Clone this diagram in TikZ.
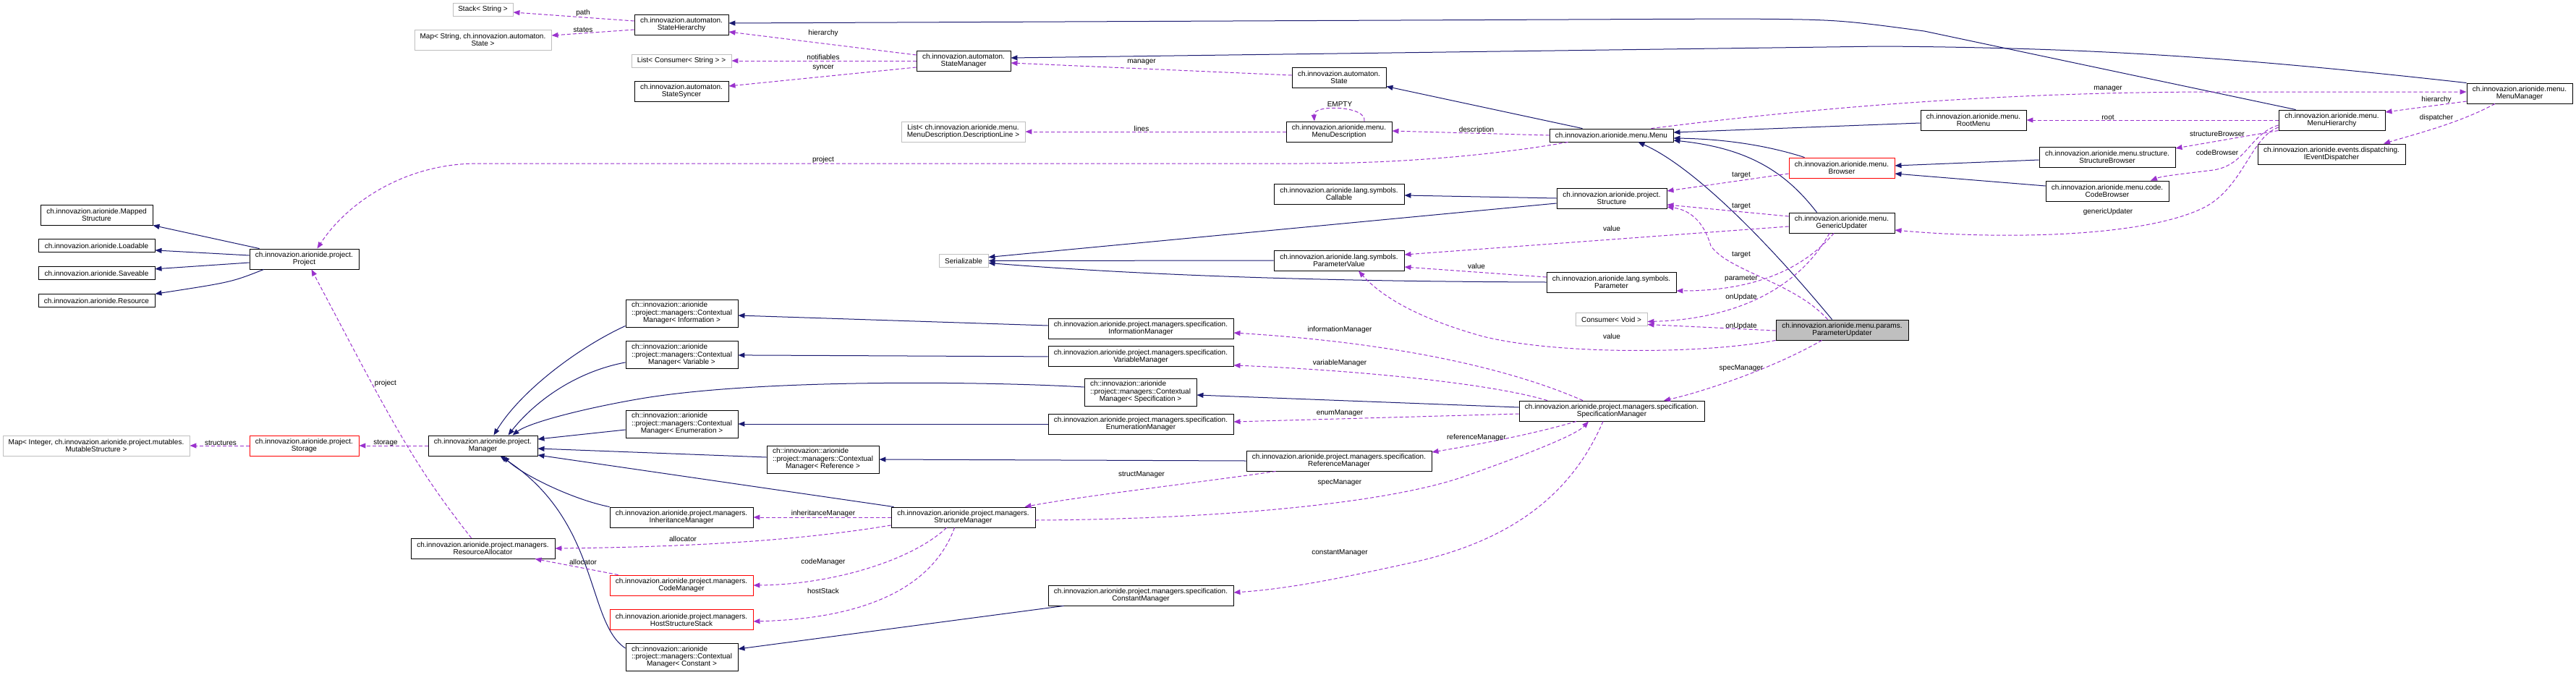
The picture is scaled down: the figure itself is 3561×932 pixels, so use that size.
\documentclass[tikz,border=0pt]{standalone}
\usepackage{fontspec}
\setmainfont{Liberation Sans}
\usepackage{tikz}
\usetikzlibrary{arrows.meta,positioning}
\definecolor{inhblue}{HTML}{191970}
\definecolor{usepurple}{HTML}{9A32CD}
\definecolor{extgray}{HTML}{BFBFBF}
\newcommand{\ctxmgr}[1]{\begin{tabular}{@{}l@{}}ch::innovazion::arionide\\::project::managers::Contextual\\
  \multicolumn{1}{@{}c@{}}{Manager< #1 >}\end{tabular}}

\begin{document}
\begin{tikzpicture}[x=1pt,y=-1pt,
  cls/.style={rectangle,draw,line width=0.9pt,inner sep=0pt,align=center,
              font=\fontsize{10}{10}\selectfont,minimum height=28pt,minimum width=#1pt},
  ext/.style={cls=#1,draw=extgray},
  undoc/.style={cls=#1,draw=red},
  lbl/.style={font=\fontsize{10}{10}\selectfont,inner sep=0pt},
  inh/.style={draw=inhblue,line width=1pt,-{Triangle[length=9pt,width=7pt]}},
  comp/.style={draw=usepurple,line width=1pt,dash pattern=on 5pt off 3pt,
               -{Triangle[length=9pt,width=7pt]}}]
\useasboundingbox (0,0) rectangle (3561,932);
% automaton
\node[ext=83,minimum height=18pt] (stack) at (667.5,13) {Stack< String >};
\node[ext=189] (mapstates) at (667.5,55) {Map< String, ch.innovazion.automaton.\\State >};
\node[cls=130] (hier) at (942,34) {ch.innovazion.automaton.\\StateHierarchy};
\node[ext=138,minimum height=18pt] (consumers) at (942,84) {List< Consumer< String > >};
\node[cls=130] (syncer) at (942,126) {ch.innovazion.automaton.\\StateSyncer};
\node[cls=130] (smanager) at (1332,84) {ch.innovazion.automaton.\\StateManager};
\node[ext=171] (lines) at (1331.5,182) {List< ch.innovazion.arionide.menu.\\MenuDescription.DescriptionLine >};
\node[cls=130] (state) at (1851,107) {ch.innovazion.automaton.\\State};
% menu
\node[cls=146] (mdesc) at (1851,182) {ch.innovazion.arionide.menu.\\MenuDescription};
\node[cls=171,minimum height=18pt] (menu) at (2227.5,187) {ch.innovazion.arionide.menu.Menu};
\node[undoc=146] (browser) at (2546,232) {ch.innovazion.arionide.menu.\\Browser};
\node[cls=180] (callable) at (1851,268) {ch.innovazion.arionide.lang.symbols.\\Callable};
\node[cls=152] (structure) at (2228,274) {ch.innovazion.arionide.project.\\Structure};
\node[cls=146] (generic) at (2546,308) {ch.innovazion.arionide.menu.\\GenericUpdater};
\node[cls=146] (rootmenu) at (2728,166) {ch.innovazion.arionide.menu.\\RootMenu};
\node[cls=147] (mhier) at (3223.5,166) {ch.innovazion.arionide.menu.\\MenuHierarchy};
\node[cls=146] (mmanager) at (3483,129) {ch.innovazion.arionide.menu.\\MenuManager};
\node[cls=188] (sbrowser) at (2913,217) {ch.innovazion.arionide.menu.structure.\\StructureBrowser};
\node[cls=170] (cbrowser) at (2913,264) {ch.innovazion.arionide.menu.code.\\CodeBrowser};
\node[cls=204] (dispatcher) at (3223,213) {ch.innovazion.arionide.events.dispatching.\\IEventDispatcher};
% project
\node[cls=155] (mapped) at (133.5,297) {ch.innovazion.arionide.Mapped\\Structure};
\node[cls=161,minimum height=18pt,below=19pt of mapped] (loadable) {ch.innovazion.arionide.Loadable};
\node[cls=161,minimum height=18pt,below=19pt of loadable] (saveable) {ch.innovazion.arionide.Saveable};
\node[cls=161,minimum height=18pt,below=19pt of saveable] (resource) {ch.innovazion.arionide.Resource};
\node[cls=151] (project) at (420.5,358) {ch.innovazion.arionide.project.\\Project};
\node[ext=68,minimum height=18pt] (serializable) at (1332,360.5) {Serializable};
\node[cls=180] (pvalue) at (1851,360) {ch.innovazion.arionide.lang.symbols.\\ParameterValue};
\node[cls=179] (parameter) at (2227.5,390) {ch.innovazion.arionide.lang.symbols.\\Parameter};
\node[ext=99,minimum height=18pt] (cvoid) at (2227.5,441.5) {Consumer< Void >};
\node[cls=183,fill=extgray] (pupdater) at (2546.5,456) {ch.innovazion.arionide.menu.params.\\ParameterUpdater};
% managers
\node[cls=155,minimum height=38pt] (ctxinfo) at (942.5,433) {\ctxmgr{Information}};
\node[cls=155,minimum height=38pt,below=19pt of ctxinfo] (ctxvar) {\ctxmgr{Variable}};
\node[cls=155,minimum height=38pt] (ctxenum) at (942.5,586) {\ctxmgr{Enumeration}};
\node[cls=155,minimum height=38pt] (ctxspec) at (1576.5,542) {\ctxmgr{Specification}};
\node[cls=155,minimum height=38pt] (ctxref) at (1137.5,635) {\ctxmgr{Reference}};
\node[cls=155,minimum height=38pt] (ctxconst) at (942.5,908) {\ctxmgr{Constant}};
\node[cls=256] (infomgr) at (1577,454) {ch.innovazion.arionide.project.managers.specification.\\InformationManager};
\node[cls=256,below=10pt of infomgr] (varmgr) {ch.innovazion.arionide.project.managers.specification.\\VariableManager};
\node[cls=256] (enummgr) at (1577,586) {ch.innovazion.arionide.project.managers.specification.\\EnumerationManager};
\node[cls=256] (refmgr) at (1851,637) {ch.innovazion.arionide.project.managers.specification.\\ReferenceManager};
\node[cls=256] (specmgr) at (2228,568) {ch.innovazion.arionide.project.managers.specification.\\SpecificationManager};
\node[cls=256] (constmgr) at (1577,823) {ch.innovazion.arionide.project.managers.specification.\\ConstantManager};
\node[ext=258] (mutables) at (133,616) {Map< Integer, ch.innovazion.arionide.project.mutables.\\MutableStructure >};
\node[undoc=151] (storage) at (420.5,616) {ch.innovazion.arionide.project.\\Storage};
\node[cls=151] (manager) at (667.5,616) {ch.innovazion.arionide.project.\\Manager};
\node[cls=199] (allocator) at (667.5,758) {ch.innovazion.arionide.project.managers.\\ResourceAllocator};
\node[cls=198] (inhmgr) at (942,715) {ch.innovazion.arionide.project.managers.\\InheritanceManager};
\node[undoc=198] (codemgr) at (942,809) {ch.innovazion.arionide.project.managers.\\CodeManager};
\node[undoc=198,below=19pt of codemgr] (hoststack) {ch.innovazion.arionide.project.managers.\\HostStructureStack};
\node[cls=199] (structmgr) at (1331.5,715) {ch.innovazion.arionide.project.managers.\\StructureManager};

% inheritance
\draw[inh] ([xshift=24pt]mhier.north west) -- (2660,43) .. controls (2540,27) .. (2400,26) -- ([yshift=2pt]hier.east);
\draw[inh] (mmanager.north west) .. controls (3100,80) and (2900,66) .. (2600,64) -- ([yshift=4pt]smanager.east);
\draw[inh] ([xshift=-40pt]menu.north) -- ([yshift=2pt]state.south east);
\draw[inh] ([yshift=-4pt]rootmenu.west) -- ([yshift=4pt]menu.east);
\draw[inh] ([xshift=22pt]browser.north west) .. controls (2440,200) and (2380,192) .. ([yshift=-4pt]menu.east);
\draw[inh] ([xshift=39pt]generic.north west) .. controls (2470,240) and (2420,205) .. ([yshift=-7pt]menu.east);
\draw[inh] ([xshift=-14pt]pupdater.north) .. controls (2440,330) and (2340,230) .. ([xshift=37pt]menu.south);
\draw[inh] ([yshift=-4pt]sbrowser.west) -- ([yshift=3pt]browser.east);
\draw[inh] ([yshift=7pt]cbrowser.west) -- ([yshift=-8pt]browser.east);
\draw[inh] (structure.west) -- ([yshift=-2pt]callable.east);
\draw[inh] ([yshift=-7pt]structure.west) -- ([yshift=5pt]serializable.east);
\draw[inh] (pvalue.west) -- (serializable.east);
\draw[inh] (parameter.west) .. controls (1850,389) and (1600,382) .. ([yshift=-3pt]serializable.east);
\draw[inh] ([xshift=14pt]project.north west) -- (mapped.south east);
\draw[inh] ([yshift=5pt]project.west) -- ([yshift=-6pt]loadable.east);
\draw[inh] ([yshift=-5pt]project.west) -- ([yshift=6pt]saveable.east);
\draw[inh] ([xshift=20pt]project.south west) .. controls (320,390) .. (resource.north east);
\draw[inh] ([yshift=2pt]ctxinfo.south west) .. controls (800,480) and (720,540) .. ([xshift=15pt]manager.north);
\draw[inh] ([yshift=-10pt]ctxvar.west) .. controls (790,515) and (735,560) .. ([xshift=35pt]manager.north);
\draw[inh] ([yshift=7pt]ctxspec.west) .. controls (1380,528) and (1050,522) .. (880,552)
  .. controls (800,566) and (730,585) .. ([xshift=41pt]manager.north);
\draw[inh] ([yshift=-8pt]ctxenum.west) -- ([yshift=9pt]manager.east);
\draw[inh] ([yshift=3pt]ctxref.west) -- ([yshift=-4pt]manager.east);
\draw[inh] ([xshift=4pt]structmgr.north west) -- ([yshift=-13pt]manager.east);
\draw[inh] (inhmgr.north west) .. controls (790,690) and (720,655) .. ([xshift=28pt]manager.south);
\draw[inh] ([yshift=12pt]ctxconst.west) .. controls (810,860) and (830,720) .. ([xshift=24pt]manager.south);
\draw[inh] ([yshift=4pt]infomgr.west) -- ([yshift=-3pt]ctxinfo.east);
\draw[inh] (varmgr.west) -- (ctxvar.east);
\draw[inh] ([yshift=5pt]specmgr.west) -- ([yshift=-4pt]ctxspec.east);
\draw[inh] (enummgr.west) -- (ctxenum.east);
\draw[inh] (refmgr.west) -- (ctxref.east);
\draw[inh] ([xshift=22pt]constmgr.south west) -- ([yshift=11pt]ctxconst.east);

% usage
\draw[comp] ([yshift=5pt]hier.west) -- ([yshift=-4pt]stack.east);
\draw[comp] ([yshift=-7pt]hier.west) -- ([yshift=6pt]mapstates.east);
\draw[comp] ([yshift=8pt]smanager.west) -- ([yshift=-10pt]hier.east);
\draw[comp] (smanager.west) -- (consumers.east);
\draw[comp] ([yshift=-9pt]smanager.west) -- ([yshift=7pt]syncer.east);
\draw[comp] ([yshift=3pt]state.west) -- ([yshift=-3pt]smanager.east);
\draw[comp] (mdesc.west) -- (lines.east);
\draw[comp] ([xshift=35pt]mdesc.north) .. controls (1890,146) and (1815,144) .. ([xshift=-34pt]mdesc.north);
\draw[comp] (menu.west) -- ([yshift=1pt]mdesc.east);
\draw[comp] ([xshift=-60pt]menu.south) .. controls (2080,212) and (1950,226) .. (1800,226) -- (660,226)
  .. controls (560,226) and (480,280) .. ([xshift=18pt]project.north);
\draw[comp] ([xshift=55pt]menu.north) .. controls (2500,150) and (2750,128) .. (3050,127) -- ([yshift=2pt]mmanager.west);
\draw[comp] ([yshift=-11pt]mmanager.west) -- ([yshift=11pt]mhier.east);
\draw[comp] ([xshift=-34pt]mmanager.south) .. controls (3400,170) and (3340,185) .. ([xshift=72pt]dispatcher.north);
\draw[comp] (mhier.west) -- (rootmenu.east);
\draw[comp] (mhier.south west) -- ([yshift=12pt]sbrowser.east);
\draw[comp] ([yshift=-7pt]mhier.west) .. controls (3110,185) and (3105,228) .. (3060,235)
  .. controls (3020,240) and (2990,243) .. ([xshift=60pt]cbrowser.north);
\draw[comp] ([yshift=-10pt]mhier.west) .. controls (3110,190) and (3100,265) .. (3040,290)
  .. controls (2950,330) and (2750,330) .. ([yshift=-10pt]generic.east);
\draw[comp] ([yshift=-8pt]browser.west) -- ([yshift=10pt]structure.east);
\draw[comp] ([yshift=9pt]generic.west) -- ([yshift=-9pt]structure.east);
\draw[comp] ([yshift=-5pt]generic.west) -- ([yshift=8pt]pvalue.east);
\draw[comp] ([xshift=-11pt]generic.south) .. controls (2490,375) and (2420,402) .. ([yshift=-12pt]parameter.east);
\draw[comp] ([xshift=-17pt]generic.south) .. controls (2480,410) and (2380,442) .. ([yshift=-3pt]cvoid.east);
\draw[comp] ([xshift=-20pt]pupdater.north) .. controls (2480,390) and (2390,375) .. (2365,340)
  .. controls (2355,305) and (2335,290) .. ([yshift=-12pt]structure.east);
\draw[comp] ([yshift=-1pt]pupdater.west) -- ([yshift=-7pt]cvoid.east);
\draw[comp] (pupdater.south west) .. controls (2350,490) and (2150,490) .. (2050,465)
  .. controls (1960,440) and (1910,410) .. ([xshift=27pt]pvalue.south);
\draw[comp] ([xshift=-28pt]pupdater.south) .. controls (2440,515) and (2340,545) .. ([xshift=72pt]specmgr.north);
\draw[comp] ([yshift=7pt]parameter.west) -- ([yshift=-9pt]pvalue.east);
\draw[comp] ([xshift=-40pt]specmgr.north) .. controls (2100,515) and (1950,475) .. ([yshift=-6pt]infomgr.east);
\draw[comp] ([xshift=-89pt]specmgr.north) .. controls (2060,530) and (1880,512) .. ([yshift=-12pt]varmgr.east);
\draw[comp] ([yshift=-4pt]specmgr.west) -- ([yshift=3pt]enummgr.east);
\draw[comp] ([xshift=-49pt]specmgr.south) .. controls (2120,600) and (2040,615) .. ([yshift=12pt]refmgr.east);
\draw[comp] ([yshift=-4pt]structmgr.east) .. controls (1650,718) and (1900,700) .. (2020,660)
  .. controls (2120,625) and (2180,600) .. ([xshift=-32pt]specmgr.south);
\draw[comp] ([xshift=-12pt]specmgr.south) .. controls (2170,690) and (2080,750) .. (1950,778)
  .. controls (1850,800) and (1780,814) .. ([yshift=4pt]constmgr.east);
\draw[comp] ([xshift=41pt]refmgr.south west) .. controls (1650,668) and (1500,685) .. ([xshift=85pt]structmgr.north);
\draw[comp] (structmgr.west) -- (inhmgr.east);
\draw[comp] ([yshift=-11pt]structmgr.west) .. controls (1100,748) and (950,756) .. (allocator.east);
\draw[comp] ([xshift=-23pt]structmgr.south) .. controls (1260,775) and (1150,808) .. (codemgr.east);
\draw[comp] ([xshift=-12pt]structmgr.south) .. controls (1290,810) and (1200,855) .. ([yshift=-2pt]hoststack.east);
\draw[comp] ([xshift=12pt]codemgr.north west) -- ([xshift=72pt]allocator.south);
\draw[comp] ([xshift=-16pt]allocator.north) .. controls (570,640) and (540,580) .. ([xshift=10pt]project.south);
\draw[comp] (manager.west) -- (storage.east);
\draw[comp] (storage.west) -- (mutables.east);

% edge labels
\node[lbl] (lpath) at (806,18) {path};
\node[lbl] (lstates) at (806,41) {states};
\node[lbl] (lhier) at (1138,46) {hierarchy};
\node[lbl] (lnotif) at (1138,79) {notifiables};
\node[lbl] (lsyncer) at (1138,94) {syncer};
\node[lbl] (lmanager) at (1578,86) {manager};
\node[lbl] (llines) at (1578,178) {lines};
\node[lbl] (lproject) at (1138,221) {project};
\node[lbl] (lempty) at (1852,144) {EMPTY};
\node[lbl] (ldesc) at (2041,180) {description};
\node[lbl] (ltargetb) at (2407,242) {target};
\node[lbl] (ltargetg) at (2407,285) {target};
\node[lbl] (lvalueg) at (2228,316) {value};
\node[lbl] (lmmanager) at (2914,123) {manager};
\node[lbl] (lmhier) at (3368,138) {hierarchy};
\node[lbl] (lroot) at (2914,162) {root};
\node[lbl] (ldispatch) at (3368,163) {dispatcher};
\node[lbl] (lsbrowser) at (3065,185) {structureBrowser};
\node[lbl] (lcbrowser) at (3065,211) {codeBrowser};
\node[lbl] (lgeneric) at (2914,293) {genericUpdater};
\node[lbl] (lprojecta) at (533,530) {project};
\node[lbl] (lstructures) at (305,612) {structures};
\node[lbl] (lstorage) at (533,612) {storage};
\node[lbl] (lvaluep) at (2041,368) {value};
\node[lbl] (ltargetp) at (2407,352) {target};
\node[lbl] (lparam) at (2407,385) {parameter};
\node[lbl] (lonupdg) at (2407,411) {onUpdate};
\node[lbl] (lonupdp) at (2407,451) {onUpdate};
\node[lbl] (lvaluepu) at (2228,465) {value};
\node[lbl] (linfo) at (1852,456) {informationManager};
\node[lbl] (lvar) at (1852,502) {variableManager};
\node[lbl] (lspecpu) at (2407,509) {specManager};
\node[lbl] (lenum) at (1852,571) {enumManager};
\node[lbl] (lref) at (2041,605) {referenceManager};
\node[lbl] (lstructm) at (1578,656) {structManager};
\node[lbl] (lspecsm) at (1852,667) {specManager};
\node[lbl] (linh) at (1138,710) {inheritanceManager};
\node[lbl] (lallocsm) at (944,745) {allocator};
\node[lbl] (lconst) at (1852,764) {constantManager};
\node[lbl] (lcode) at (1138,777) {codeManager};
\node[lbl] (lalloccm) at (806,777) {allocator};
\node[lbl] (lhost) at (1138,817) {hostStack};
\end{tikzpicture}
\end{document}
